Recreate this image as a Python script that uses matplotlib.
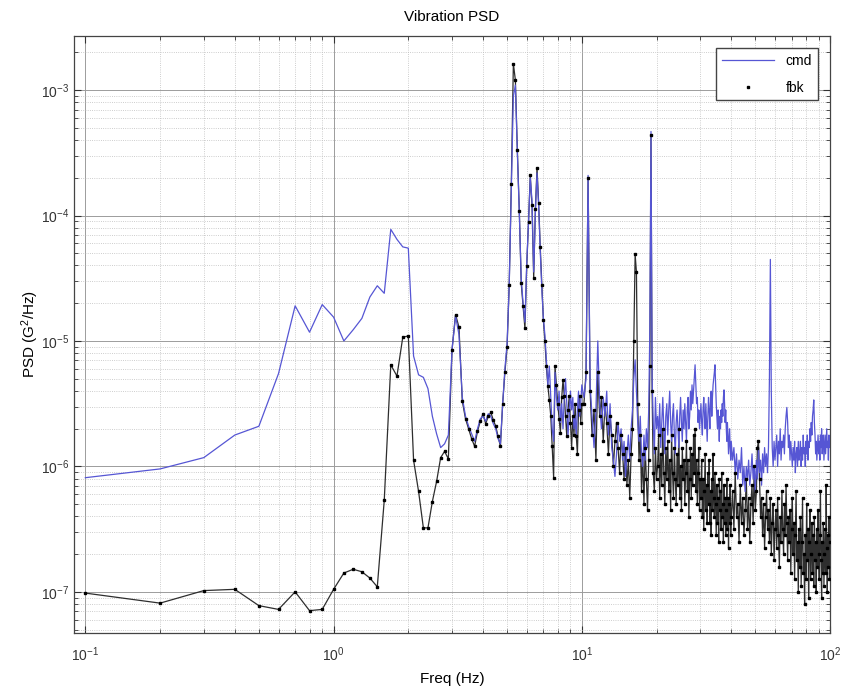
import numpy as np
import matplotlib
matplotlib.use('Agg')
import matplotlib.pyplot as plt
from matplotlib.ticker import LogLocator, NullFormatter

plt.rcParams['font.family'] = ['Liberation Sans', 'DejaVu Sans']
plt.rcParams['mathtext.default'] = 'regular'

# frequency bins (Hz): 0.1 Hz steps up to 10, 0.2 Hz to 40, 0.5 Hz to 100
freq_low = np.arange(1, 101) / 10
freq_mid = np.arange(51, 101) / 5
freq_upper = np.arange(101, 201) / 5
freq_high = np.arange(81, 201) / 2

# PSD values as log10(G^2/Hz)
cmd_low = [
    -6.09, -6.02, -5.93, -5.75, -5.68, -5.26, -4.72, -4.93, -4.71, -4.81,
    -5.00, -4.91, -4.82, -4.65, -4.56, -4.62, -4.11, -4.19, -4.25, -4.26,
    -5.12, -5.27, -5.29, -5.38, -5.60, -5.74, -5.85, -5.82, -5.75, -5.07,
    -4.80, -4.95, -5.45, -5.60, -5.68, -5.74, -5.80, -5.70, -5.62, -5.60,
    -5.64, -5.58, -5.60, -5.66, -5.70, -5.78, -5.82, -5.50, -5.22, -5.02,
    -4.55, -3.80, -3.05, -2.96, -3.50, -3.98, -4.50, -4.70, -4.85, -4.38,
    -4.05, -3.70, -3.88, -4.45, -3.98, -3.66, -3.92, -4.28, -4.58, -4.82,
    -4.95, -5.15, -5.35, -5.20, -5.45, -5.70, -5.80, -5.25, -5.45, -5.55,
    -5.40, -5.65, -5.50, -5.70, -5.45, -5.30, -5.50, -5.75, -5.60, -5.40,
    -5.55, -5.45, -5.70, -5.60, -5.75, -5.55, -5.40, -5.60, -5.50, -5.35,
]
fbk_low = [
    -7.01, -7.09, -6.99, -6.98, -7.11, -7.14, -7.00, -7.15, -7.14, -6.98,
    -6.85, -6.82, -6.84, -6.89, -6.96, -6.27, -5.19, -5.28, -4.97, -4.96,
    -5.95, -6.20, -6.49, -6.49, -6.28, -6.12, -5.93, -5.88, -5.94, -5.07,
    -4.79, -4.89, -5.48, -5.62, -5.70, -5.78, -5.84, -5.72, -5.64, -5.58,
    -5.66, -5.60, -5.57, -5.63, -5.68, -5.76, -5.84, -5.50, -5.25, -5.05,
    -4.55, -3.75, -2.79, -2.92, -3.48, -3.96, -4.54, -4.72, -4.90, -4.40,
    -4.05, -3.68, -3.92, -4.50, -3.95, -3.62, -3.90, -4.25, -4.55, -4.83,
    -5.00, -5.20, -5.36, -5.47, -5.60, -5.84, -6.09, -5.20, -5.35, -5.50,
    -5.62, -5.73, -5.45, -5.31, -5.44, -5.60, -5.76, -5.55, -5.44, -5.65,
    -5.85, -5.60, -5.75, -5.50, -5.76, -5.90, -5.55, -5.44, -5.65, -5.50,
]
cmd_mid = [
    -5.45, -5.30, -3.68, -5.35, -5.60, -5.85, -5.55, -5.00, -5.50, -5.70,
    -5.45, -5.60, -5.40, -5.75, -5.50, -5.85, -5.95, -6.08, -5.90, -5.65,
    -5.80, -5.70, -5.95, -5.80, -6.08, -5.90, -5.75, -5.95, -5.70, -5.55,
    -5.30, -5.15, -5.40, -5.65, -5.80, -5.60, -5.90, -6.00, -5.75, -5.95,
    -5.70, -5.85, -5.55, -4.90, -3.33, -5.30, -5.65, -5.90, -5.45, -5.70,
]
fbk_mid = [
    -5.50, -5.25, -3.70, -5.40, -5.75, -5.55, -5.95, -5.25, -5.60, -5.45,
    -5.80, -5.50, -5.65, -5.90, -5.60, -5.75, -6.00, -5.80, -5.65, -5.85,
    -6.05, -5.75, -5.90, -6.10, -5.85, -6.15, -5.95, -6.25, -5.90, -5.70,
    -5.00, -4.31, -4.45, -5.50, -5.95, -5.75, -6.20, -5.90, -6.30, -5.85,
    -6.10, -6.35, -5.95, -5.20, -3.36, -5.40, -6.05, -6.20, -5.85, -6.10,
]
cmd_upper = [
    -5.60, -5.75, -5.50, -5.85, -5.65, -5.45, -5.70, -5.90, -5.60, -5.50,
    -5.75, -5.55, -5.40, -5.65, -5.80, -5.60, -5.50, -5.75, -5.90, -5.65,
    -5.55, -5.70, -5.85, -5.60, -5.45, -5.65, -5.80, -5.55, -5.70, -5.50,
    -5.65, -5.80, -5.55, -5.45, -5.70, -5.60, -5.40, -5.55, -5.35, -5.50,
    -5.40, -5.30, -5.19, -5.35, -5.50, -5.45, -5.65, -5.55, -5.70, -5.60,
    -5.50, -5.65, -5.75, -5.55, -5.45, -5.60, -5.70, -5.50, -5.65, -5.80,
    -5.60, -5.45, -5.55, -5.70, -5.50, -5.40, -5.60, -5.45, -5.35, -5.30,
    -5.25, -5.19, -5.35, -5.50, -5.60, -5.70, -5.55, -5.65, -5.80, -5.60,
    -5.70, -5.55, -5.65, -5.50, -5.60, -5.45, -5.39, -5.50, -5.65, -5.55,
    -5.70, -5.80, -5.65, -5.75, -5.90, -5.80, -5.70, -5.85, -5.95, -5.80,
]
fbk_upper = [
    -6.00, -5.75, -6.25, -5.90, -6.15, -5.70, -6.05, -6.30, -5.85, -6.10,
    -5.80, -6.20, -5.95, -6.35, -5.75, -6.05, -6.25, -5.85, -6.10, -6.30,
    -5.90, -6.15, -5.70, -6.25, -6.00, -6.35, -5.85, -6.10, -5.95, -6.30,
    -6.05, -5.80, -6.20, -5.95, -6.40, -6.10, -5.85, -6.25, -5.90, -6.15,
    -5.75, -6.05, -5.70, -6.20, -5.95, -6.30, -6.05, -5.85, -6.35, -6.10,
    -6.25, -5.95, -6.40, -6.10, -6.50, -6.20, -5.90, -6.35, -6.15, -6.45,
    -6.05, -6.30, -5.95, -6.45, -6.20, -6.55, -6.10, -6.35, -5.90, -6.25,
    -6.40, -6.05, -6.30, -6.55, -6.15, -6.45, -6.25, -6.60, -6.10, -6.35,
    -6.20, -6.50, -6.05, -6.40, -6.30, -6.60, -6.15, -6.45, -6.25, -6.55,
    -6.35, -6.10, -6.50, -6.25, -6.65, -6.30, -6.45, -6.15, -6.55, -6.40,
]
cmd_high = [
    -5.95, -5.85, -6.05, -5.90, -6.10, -5.95, -6.05, -5.85, -6.15, -6.00,
    -6.20, -6.00, -6.10, -5.95, -6.15, -6.05, -5.90, -6.10, -6.00, -6.20,
    -5.95, -6.10, -5.85, -6.05, -5.95, -6.15, -5.90, -6.05, -5.85, -6.00,
    -5.90, -6.05, -5.85, -5.30, -4.35, -5.40, -5.85, -6.00, -5.80, -5.95,
    -5.85, -5.75, -6.00, -5.80, -5.90, -5.70, -5.95, -5.80, -5.85, -5.75,
    -5.90, -5.70, -5.60, -5.53, -5.65, -5.85, -5.75, -5.95, -5.80, -5.90,
    -6.00, -5.85, -5.95, -5.80, -6.05, -5.90, -5.85, -6.00, -5.80, -5.95,
    -5.90, -5.80, -6.00, -5.85, -5.95, -5.75, -5.90, -5.85, -6.00, -5.80,
    -5.90, -5.75, -5.95, -5.80, -5.85, -5.70, -5.80, -5.65, -5.75, -5.60,
    -5.55, -5.47, -5.65, -5.75, -5.90, -5.80, -5.95, -5.85, -5.75, -5.90,
    -5.80, -5.95, -5.75, -5.85, -5.70, -5.90, -5.80, -5.75, -5.95, -5.85,
    -5.75, -5.90, -5.80, -5.70, -5.85, -5.80, -5.95, -5.75, -5.85, -5.80,
]
fbk_high = [
    -6.20, -6.50, -6.05, -6.40, -6.30, -6.60, -6.15, -6.45, -6.25, -6.55,
    -6.35, -6.10, -6.50, -6.25, -6.60, -6.30, -6.15, -6.45, -6.00, -6.35,
    -6.20, -5.85, -5.80, -6.10, -6.40, -6.25, -6.55, -6.30, -6.65, -6.40,
    -6.20, -6.50, -6.35, -6.60, -6.25, -6.70, -6.45, -6.30, -6.75, -6.50,
    -6.35, -6.65, -6.25, -6.55, -6.80, -6.40, -6.60, -6.20, -6.50, -6.70,
    -6.30, -6.55, -6.15, -6.45, -6.75, -6.40, -6.60, -6.35, -6.85, -6.50,
    -6.25, -6.70, -6.45, -6.90, -6.55, -6.20, -6.75, -6.60, -7.00, -6.50,
    -6.80, -6.40, -6.95, -6.60, -6.25, -6.85, -6.70, -7.10, -6.55, -6.90,
    -6.30, -6.75, -6.50, -7.05, -6.60, -6.35, -6.90, -6.70, -6.45, -6.85,
    -6.55, -6.95, -6.40, -6.75, -6.60, -7.00, -6.50, -6.80, -6.35, -6.70,
    -6.90, -6.55, -6.20, -6.75, -7.05, -6.60, -6.85, -6.45, -6.95, -6.70,
    -6.50, -6.85, -6.15, -6.65, -7.00, -6.55, -6.80, -6.40, -6.90, -6.60,
]

freq = np.concatenate([freq_low, freq_mid, freq_upper, freq_high])
cmd = 10.0 ** np.array(cmd_low + cmd_mid + cmd_upper + cmd_high)
fbk = 10.0 ** np.array(fbk_low + fbk_mid + fbk_upper + fbk_high)

FONTSIZE = 10
fig = plt.figure(figsize=(8.43, 6.92), dpi=100)
ax = fig.add_axes([0.0878, 0.0853, 0.8968, 0.8627])

ax.plot(freq, fbk, color='#2e2e2e', lw=0.9, zorder=2)
cmd_line, = ax.plot(freq, cmd, color='#5656d4', lw=0.9, label='cmd', zorder=3)
fbk_dots, = ax.plot(freq, fbk, ls='none', marker='s', ms=1.7, color='black',
                    label='fbk', zorder=4)

ax.set_xscale('log')
ax.set_yscale('log')
ax.set_xlim(0.09, 100)
ax.set_ylim(4.7e-8, 2.7e-3)

ax.xaxis.set_minor_locator(LogLocator(base=10, subs=np.arange(2, 10), numticks=20))
ax.yaxis.set_minor_locator(LogLocator(base=10, subs=np.arange(2, 10), numticks=20))
ax.xaxis.set_minor_formatter(NullFormatter())
ax.yaxis.set_minor_formatter(NullFormatter())

ax.grid(True, which='major', color='#9c9c9c', lw=0.7, ls='-')
ax.grid(True, which='minor', color='#bdbdbd', lw=0.6, ls=':')
ax.set_axisbelow(True)

ax.tick_params(which='both', direction='in', top=True, right=True,
               labelsize=FONTSIZE, colors='#333333')
ax.tick_params(which='major', length=5)
ax.tick_params(which='minor', length=3)
ax.tick_params(axis='x', which='major', pad=9)
for s in ax.spines.values():
    s.set_color('#444444')
    s.set_linewidth(0.9)

ax.set_title('Vibration PSD', fontsize=11, pad=11)
ax.set_xlabel('Freq (Hz)', fontsize=11, labelpad=6)
ax.set_ylabel('PSD (G$^2$/Hz)', fontsize=11, labelpad=0)

ax.legend(handles=[cmd_line, fbk_dots], loc='upper right', fontsize=FONTSIZE,
          fancybox=False, edgecolor='#444444', framealpha=1, handlelength=3.8,
          markerscale=1.0, borderaxespad=0.9, labelspacing=0.9)

plt.savefig('out.png', dpi=100)
